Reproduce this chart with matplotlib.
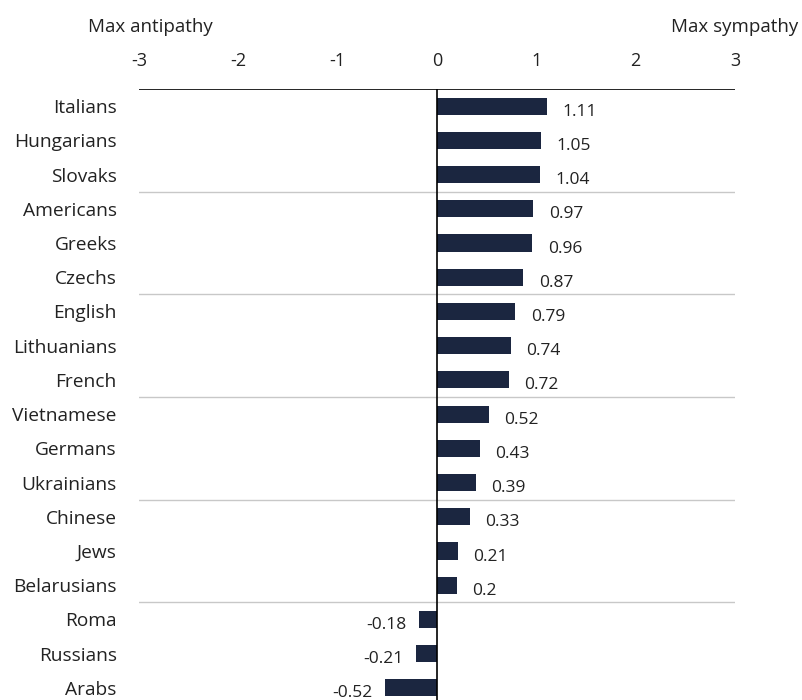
import matplotlib.pyplot as plt

# data
groups = ['Italians', 'Hungarians', 'Slovaks', 'Americans', 'Greeks', 'Czechs',
          'English', 'Lithuanians', 'French', 'Vietnamese', 'Germans', 'Ukrainians',
          'Chinese', 'Jews', 'Belarusians', 'Roma', 'Russians', 'Arabs']
scores = [1.11, 1.05, 1.04, 0.97, 0.96, 0.87,
          0.79, 0.74, 0.72, 0.52, 0.43, 0.39,
          0.33, 0.21, 0.2, -0.18, -0.21, -0.52]
ticks = [-3, -2, -1, 0, 1, 2, 3]

plt.rcParams['font.family'] = ['Open Sans', 'DejaVu Sans']

W, H = 802, 700
fig = plt.figure(figsize=(W / 100, H / 100), dpi=100)

left, right, top, bottom = 139, 735, 89, 705
ax = fig.add_axes([left / W, (H - bottom) / H, (right - left) / W, (bottom - top) / H])

navy = '#1b2640'
ypos = list(range(len(groups)))
ax.barh(ypos, scores, height=0.5, color=navy)

ax.set_xlim(-3, 3)
ax.set_ylim(len(groups) - 0.5, -0.5)

# value labels
for y, v in zip(ypos, scores):
    txt = f"{v:g}"
    if v >= 0:
        ax.annotate(txt, (v, y), xytext=(11, -4), textcoords='offset points',
                    ha='left', va='center', fontsize=12.5, color='#222222')
    else:
        ax.annotate(txt, (v, y), xytext=(-9, -4), textcoords='offset points',
                    ha='right', va='center', fontsize=12.5, color='#222222')

# separators every three rows
for k in range(3, len(groups), 3):
    ax.axhline(k - 0.5, color='#c8c8c8', lw=1, zorder=0)
ax.axhline(-0.5, color='black', lw=1.2, zorder=3)
ax.axvline(0, color='black', lw=1.2, zorder=3)

for s in ax.spines.values():
    s.set_visible(False)

ax.xaxis.tick_top()
ax.set_xticks(ticks)
ax.set_xticklabels([str(t) for t in ticks], fontsize=13, color='#222222')
ax.tick_params(axis='x', length=0, pad=14)

ax.set_yticks(ypos)
ax.set_yticklabels(groups, fontsize=13.8, color='#222222')
ax.tick_params(axis='y', length=0, pad=16)

ax.text(-2.89, -2.31, 'Max antipathy', ha='center', va='center', fontsize=13.5, color='#222222')
ax.text(3.0, -2.31, 'Max sympathy', ha='center', va='center', fontsize=13.5, color='#222222')

fig.savefig('out.png', dpi=100)
